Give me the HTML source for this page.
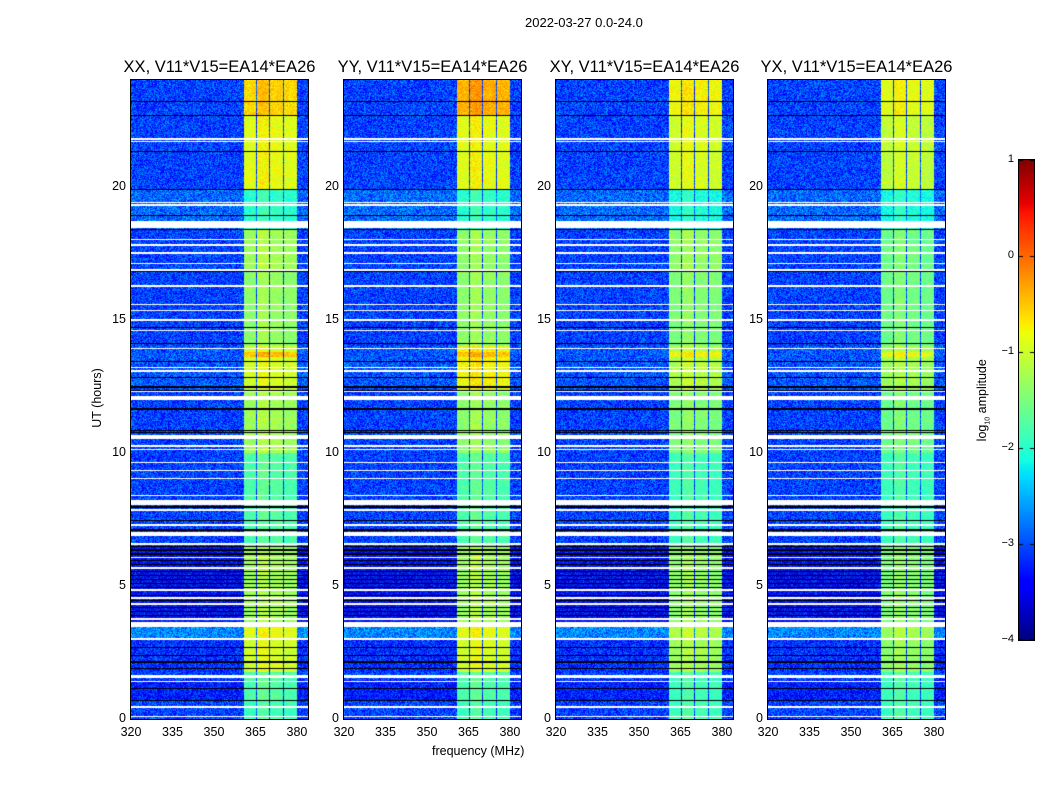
<!DOCTYPE html>
<html><head><meta charset="utf-8">
<style>
body{margin:0;background:#fff;width:1050px;height:800px;position:relative;overflow:hidden;font-family:"Liberation Sans","DejaVu Sans",sans-serif;color:#000}
.abs{position:absolute}
canvas.p{position:absolute;top:80px;width:177px;height:639px;outline:1px solid #000}
.title{position:absolute;top:58px;font-size:16.5px;white-space:nowrap;transform:translateX(-50%)}
.yt{position:absolute;font-size:12.5px;text-align:right;width:30px}
.xt{position:absolute;top:725px;font-size:12.5px;transform:translateX(-50%)}
.cbt{position:absolute;font-size:11px;text-align:right;width:30px;left:984px}
</style></head><body>
<div class="abs" style="left:525px;top:15px;font-size:13px">2022-03-27 0.0-24.0</div>
<div id="root"></div>
<div class="abs" style="left:67px;top:391px;font-size:12.5px;transform:rotate(-90deg);white-space:nowrap">UT (hours)</div>
<div class="abs" style="left:432px;top:744px;font-size:12.5px">frequency (MHz)</div>
<canvas id="cb" width="15" height="480" style="position:absolute;left:1019px;top:160px;outline:1px solid #000"></canvas>
<div class="abs" style="left:942px;top:392px;font-size:12.5px;transform:rotate(-90deg);white-space:nowrap">log<sub style="font-size:7px">10</sub> amplitude</div>
<script>
// ---- data ----
const panelNames=["XX","YY","XY","YX"];
const segStart=[0,0.7,1.45,1.75,3.0,3.65,6.5,10.0,12.4,13.6,13.8,14.0,16.85,18.4,19.9,22.7];
const segEnd  =[0.7,1.45,1.75,3.0,3.45,6.5,10.0,12.4,13.6,13.8,14.0,16.85,18.4,19.9,22.7,24];
const segBg   =[-3.2,-3.4,-3.2,-3.3,-2.85,-3.5,-3.2,-3.2,-3.1,-3.1,-3.1,-3.2,-3.2,-3.0,-3.2,-3.2];
const bandXX=[-1.9,-1.8,-1.8,-1.0,-0.9,-1.3,-1.8,-1.3,-1.0,-0.5,-1.0,-1.4,-1.3,-2.0,-0.9,-0.6];
const bandYY=[-1.9,-1.8,-1.8,-1.0,-0.9,-1.3,-1.8,-1.4,-0.8,-0.5,-0.8,-1.4,-1.4,-2.0,-0.9,-0.4];
const bandXY=[-1.9,-1.9,-1.9,-1.3,-1.2,-1.4,-1.9,-1.5,-1.2,-0.8,-1.2,-1.5,-1.4,-2.1,-1.0,-0.8];
const bandYX=[-1.9,-1.9,-1.9,-1.4,-1.3,-1.5,-1.9,-1.6,-1.3,-0.9,-1.3,-1.6,-1.6,-2.1,-1.1,-0.9];
const bandLevels=[bandXX,bandYY,bandXY,bandYX];
const blockLo=[360.5,365.2,370.2,375.3];
const blockHi=[364.9,369.8,374.8,379.8];
const blockOffset=[0,0.15,0.05,0];
const flagLo=[0.08,0.43,1.38,1.53,2.98,3.45,3.73,4.30,4.52,4.82,5.65,6.03,6.55,6.88,7.26,7.83,8.05,8.36,9.01,9.30,9.60,10.10,10.23,10.52,12.00,12.27,13.05,13.18,13.88,14.56,14.94,15.32,15.55,16.24,16.82,17.08,17.48,17.78,17.98,18.45,19.28,19.38,21.66,21.76];
const flagHi=[0.13,0.48,1.43,1.66,3.03,3.66,3.78,4.35,4.57,4.87,5.70,6.08,6.60,7.02,7.31,7.88,8.22,8.41,9.06,9.35,9.65,10.15,10.28,10.68,12.12,12.32,13.10,13.23,13.93,14.61,15.03,15.37,15.60,16.29,16.92,17.13,17.53,17.83,18.03,18.72,19.33,19.43,21.71,21.81];
const blackH=[0.7,1.16,1.9,2.14,2.4,2.7,3.9,4.05,4.2,4.45,4.65,4.95,5.1,5.25,5.4,5.55,5.8,5.95,6.2,6.35,6.48,7.1,7.45,7.96,10.75,10.85,11.64,12.35,12.47,12.82,13.44,14.1,14.7,16.8,18.4,18.9,19.9,21.3,22.68,23.2];
const yTicks=[0,5,10,15,20];
const xTicks=[320,335,350,365,380];
const cbTicks=[1,0,-1,-2,-3,-4];
const cbTickLabels=["1","0","\u22121","\u22122","\u22123","\u22124"];
// ---- axes ----
const panelLeft=[131,344,556,768], PW=177, PH=639, TOP=80;
const fMin=320, fMax=384, vMin=-4, vMax=1;
const xScale=f=>(f-fMin)/(fMax-fMin)*PW;
const yScale=h=>PH-h/24*PH;
function jet(t){t=Math.max(0,Math.min(1,t));
 const pw=(pts)=>{for(let i=1;i<pts.length;i++){if(t<=pts[i][0]){const a=pts[i-1],b=pts[i];return a[1]+(b[1]-a[1])*(t-a[0])/(b[0]-a[0]);}}return pts[pts.length-1][1];};
 return [pw([[0,0],[0.35,0],[0.66,1],[0.89,1],[1,0.5]]),pw([[0,0],[0.125,0],[0.375,1],[0.64,1],[0.91,0],[1,0]]),pw([[0,0.5],[0.11,1],[0.34,1],[0.65,0],[1,0]])].map(v=>Math.round(v*255));}
function hash(x,y,k){let h=(x*374761393+y*668265263+k*1442695041)|0;h=(h^(h>>>13))*1274126177|0;h=h^(h>>>16);return (h>>>0)/4294967296;}
const root=document.getElementById('root');
panelNames.forEach((nm,p)=>{
 const L=panelLeft[p];
 const c=document.createElement('canvas');c.width=PW;c.height=PH;c.className='p';c.style.left=L+'px';
 
 
 root.appendChild(c);
 const ctx=c.getContext('2d');const img=ctx.createImageData(PW,PH);
 const bandPx=blockLo.map((lo,i)=>[xScale(lo),xScale(blockHi[i])]);
 for(let y=0;y<PH;y++){
  const h=(PH-y-0.5)/PH*24;
  let flag=false;for(let i=0;i<flagLo.length;i++){if(h>=flagLo[i]&&h<=flagHi[i]){flag=true;break;}}
  let blk=false;for(const b of blackH){if(Math.abs(yScale(b)-y-0.5)<0.6){blk=true;break;}}
  let s=0;for(let i=0;i<segStart.length;i++){if(h>=segStart[i]&&h<segEnd[i]){s=i;break;}}
  for(let x=0;x<PW;x++){
   const o=(y*PW+x)*4;let col;
   if(flag)col=[255,255,255];
   else if(blk)col=[0,0,0];
   else{
    let v=segBg[s];
    for(let b=0;b<4;b++){if(x>=bandPx[b][0]&&x<bandPx[b][1]){v=bandLevels[p][s]+blockOffset[b];break;}}
    const n=hash(x,y,p);
    v+= v>-2.6 ? (n-0.5)*0.45 : (n-0.35)*0.9;
    col=jet((v-vMin)/(vMax-vMin));
   }
   img.data[o]=col[0];img.data[o+1]=col[1];img.data[o+2]=col[2];img.data[o+3]=255;
  }
 }
 ctx.putImageData(img,0,0);
 const t=document.createElement('div');t.className='title';t.style.left=(L+PW/2)+'px';
 t.textContent=nm+', V11*V15=EA14*EA26';
 
 
 root.appendChild(t);
 yTicks.forEach(v=>{const d=document.createElement('div');d.className='yt';
  d.style.left=(L-35)+'px';d.style.top=(TOP+yScale(v)-8)+'px';d.textContent=v;
  
  
  root.appendChild(d);});
 xTicks.forEach(v=>{const d=document.createElement('div');d.className='xt';
  d.style.left=(L+xScale(v))+'px';d.textContent=v;
  
  
  root.appendChild(d);});
});
// colorbar
const cb=document.getElementById('cb'),cc=cb.getContext('2d');
for(let y=0;y<480;y++){const col=jet(1-(y+0.5)/480);cc.fillStyle=`rgb(${col})`;cc.fillRect(0,y,15,1);}
cbTicks.forEach((v,i)=>{const y=(vMax-v)/(vMax-vMin)*480;
 cc.fillStyle='#000';cc.fillRect(0,Math.min(479,Math.round(y)),4,1);cc.fillRect(11,Math.min(479,Math.round(y)),4,1);
 const d=document.createElement('div');d.className='cbt';d.style.top=(160+y-7)+'px';d.textContent=cbTickLabels[i];
 
 
 root.appendChild(d);});
</script>
</body></html>
